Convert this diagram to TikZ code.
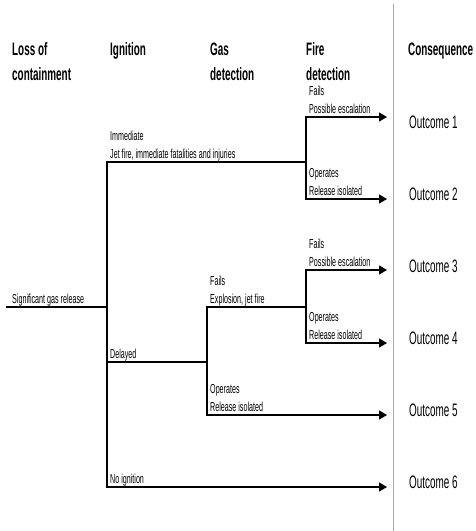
\documentclass[tikz,border=0pt]{standalone}
\usepackage{fontspec}
\setmainfont{Liberation Sans}[FakeStretch=0.55]
\usetikzlibrary{arrows.meta}

\tikzset{
  head/.style={font=\bfseries\fontsize{18}{18}\selectfont, anchor=base west, inner sep=0pt},
  lbl/.style={font=\fontsize{13}{13}\selectfont, anchor=base west, inner sep=0pt},
  outc/.style={font=\fontsize{18}{18}\selectfont, anchor=base west, inner sep=0pt},
  branch/.style={line width=1.2pt, line cap=rect},
  toout/.style={line width=1.2pt, -{Triangle[length=8pt,width=9pt]}}
}

\begin{document}
\begin{tikzpicture}[x=1pt,y=-1pt]
\useasboundingbox (0,0) rectangle (475,531);

% column headings
\node[head] (loss1) at (12,55) {Loss of};
\node[head] (loss2) at (12,80) {containment};
\node[head] (ign1) at (110,55) {Ignition};
\node[head] (gas1) at (210,55) {Gas};
\node[head] (gas2) at (210,80) {detection};
\node[head] (fire1) at (306,55) {Fire};
\node[head] (fire2) at (306,80) {detection};
\node[head] (cons) at (408,55) {Consequence};

% separator before the consequences
\draw[gray!70, line width=1pt] (393,4) -- (393,531);

% branch points of the tree
\coordinate (start) at (7,307);
\coordinate (ign) at (107,307);
\coordinate (imm) at (107,162);
\coordinate (del) at (107,362);
\coordinate (noign) at (107,487);
\coordinate (gas) at (207,362);
\coordinate (gasf) at (207,307);
\coordinate (gaso) at (207,415);
\coordinate (fireA) at (306,162);
\coordinate (fireAf) at (306,117);
\coordinate (fireAo) at (306,199);
\coordinate (fireB) at (306,307);
\coordinate (fireBf) at (306,270);
\coordinate (fireBo) at (306,343);
\coordinate (tip) at (387,0);

% the tree
\draw[branch] (start) -- (ign);
\draw[branch] (imm) -- (noign);
\draw[branch] (imm) -- (fireA);
\draw[branch] (fireAf) -- (fireAo);
\draw[branch] (del) -- (gas);
\draw[branch] (gasf) -- (gaso);
\draw[branch] (gasf) -- (fireB);
\draw[branch] (fireBf) -- (fireBo);
\foreach \c in {fireAf,fireAo,fireBf,fireBo,gaso,noign}
  \draw[toout] (\c) -- (\c -| tip);

% branch labels
\node[lbl] (rel) at (12,303) {Significant gas release};
\node[lbl] (immA) at (110,140) {Immediate};
\node[lbl] (immB) at (110,158) {Jet fire, immediate fatalities and injuries};
\node[lbl] (delA) at (110,358) {Delayed};
\node[lbl] (noA) at (110,483) {No ignition};
\node[lbl] (gfA) at (210,285) {Fails};
\node[lbl] (gfB) at (210,303) {Explosion, jet fire};
\node[lbl] (goA) at (210,393) {Operates};
\node[lbl] (goB) at (210,411) {Release isolated};
\node[lbl] (faA) at (309,95) {Fails};
\node[lbl] (faB) at (309,113) {Possible escalation};
\node[lbl] (foA) at (309,177) {Operates};
\node[lbl] (foB) at (309,195) {Release isolated};
\node[lbl] (fbA) at (309,248) {Fails};
\node[lbl] (fbB) at (309,266) {Possible escalation};
\node[lbl] (fcA) at (309,321) {Operates};
\node[lbl] (fcB) at (309,339) {Release isolated};

% consequences
\foreach \i/\y in {1/128,2/200,3/272,4/344,5/416,6/488}
  \node[outc] (out\i) at (409,\y) {Outcome \i};
\end{tikzpicture}
\end{document}
